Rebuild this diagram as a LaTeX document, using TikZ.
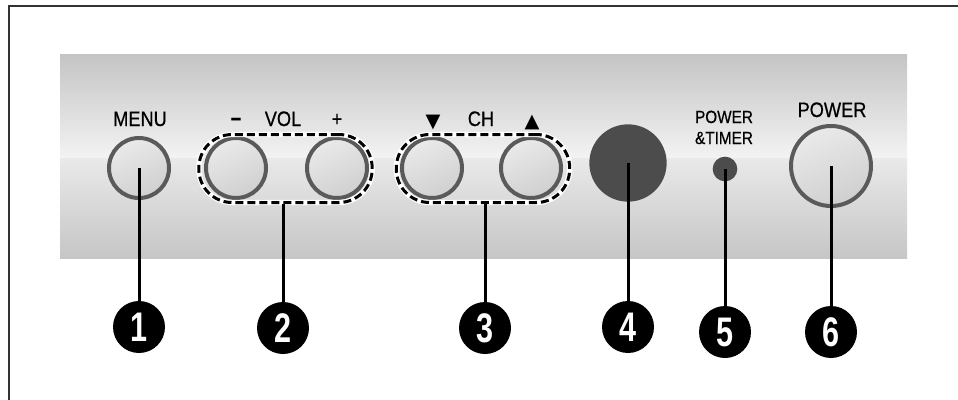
\documentclass[tikz,border=0pt]{standalone}
\usepackage{fontspec}
\setmainfont{Liberation Sans}
\newfontfamily\lblfont[FakeStretch=0.87,FakeBold=0.6]{Liberation Sans}
\newfontfamily\numfont[FakeStretch=0.74]{Liberation Sans Bold}
\newfontfamily\symfont{DejaVu Sans}
\definecolor{rim}{HTML}{5A5A5A}
\definecolor{btntop}{HTML}{EAEAEA}
\definecolor{btnbot}{HTML}{CFCFCF}
\definecolor{sensor}{HTML}{4C4C4C}
\definecolor{paneltop}{HTML}{C4C4C4}
\definecolor{panelmid}{HTML}{F3F3F3}
\definecolor{panelbot}{HTML}{C6C6C6}
\pgfdeclarelayer{panel}
\pgfdeclarelayer{front}
\pgfsetlayers{panel,main,front}
\begin{document}
\begin{tikzpicture}[x=0.75pt,y=-0.75pt,
    btn/.style={circle,draw=rim,line width=3pt,minimum size=45pt,inner sep=0pt,
      top color=btntop,bottom color=btnbot,shading angle=25},
    grp/.style={rectangle,rounded corners=25pt,minimum width=130pt,minimum height=51pt,
      draw=black,line width=2.25pt,dash pattern=on 6pt off 3pt,
      preaction={draw=white,solid,line width=4pt}},
    lbl/.style={anchor=base,inner sep=0pt,font=\lblfont\fontsize{15.7}{16}\selectfont},
    num/.style={circle,fill=black,minimum size=39pt,inner sep=0pt,text=white,
      font=\numfont\fontsize{31}{31}\selectfont},
    lead/.style={line width=2.25pt,preaction={draw=white,line width=4.5pt,line cap=round}}]
  \useasboundingbox (0,0) rectangle (958,400);
  % frame and panel
  \begin{pgfonlayer}{panel}
    \draw[line width=1pt,black!80] (958,6) -- (9,6) -- (9,400);
    \shade[top color=paneltop,bottom color=panelmid] (60,54) rectangle (907,158);
    \shade[top color=panelmid!96!black,bottom color=panelbot] (60,158) rectangle (907,258);
  \end{pgfonlayer}
  % buttons
  \node[btn] (menu) at (139,168) {};
  \node[btn] (volm) at (236,168) {};
  \node[btn] (volp) at (337,168) {};
  \node[btn] (chd) at (432,168) {};
  \node[btn] (chu) at (531,168) {};
  \node[circle,fill=sensor,minimum size=58pt,inner sep=0pt] (ir) at (628,163) {};
  \node[circle,fill=sensor,minimum size=18.5pt,inner sep=0pt] (led) at (725,169) {};
  \node[btn,minimum size=60pt] (power) at (831,166) {};
  \node[grp] (vol) at (285.5,168.5) {};
  \node[grp] (ch) at (483,168.5) {};
  % labels
  \node[lbl] (tmenu) at (140,126) {MENU};
  \node[lbl] (tvolm) at (236,126) {\bfseries −};
  \node[lbl] (tvol) at (283,126) {VOL};
  \node[lbl] (tvolp) at (337,126) {+};
  \node[lbl,font=\symfont\fontsize{14.5}{15}\selectfont] (tchd) at (433,127) {▼};
  \node[lbl] (tch) at (481,126) {CH};
  \node[lbl,font=\symfont\fontsize{14.5}{15}\selectfont] (tchu) at (532,127) {▲};
  \node[lbl,font=\lblfont\fontsize{13.2}{14}\selectfont] (tled1) at (724,123) {POWER};
  \node[lbl,font=\lblfont\fontsize{13.2}{14}\selectfont] (tled2) at (724,144) {\&TIMER};
  \node[lbl] (tpower) at (832,117) {POWER};
  % callouts
  \begin{pgfonlayer}{front}
    \node[num] (n1) at (139,327) {1};
    \node[num] (n2) at (283,328) {2};
    \node[num] (n3) at (485,328) {3};
    \node[num] (n4) at (628,327) {4};
    \node[num] (n5) at (725,332) {5};
    \node[num] (n6) at (831,332) {6};
  \end{pgfonlayer}
  \begin{scope}[lead]
    \draw (menu.center) -- (n1.north);
    \draw (n2.north |- vol.south) -- (n2.north);
    \draw (n3.north |- ch.south) -- (n3.north);
    \draw (ir.center) -- (n4.north);
    \draw (led.center) -- (n5.north);
    \draw (power.center) -- (n6.north);
  \end{scope}
\end{tikzpicture}
\end{document}
